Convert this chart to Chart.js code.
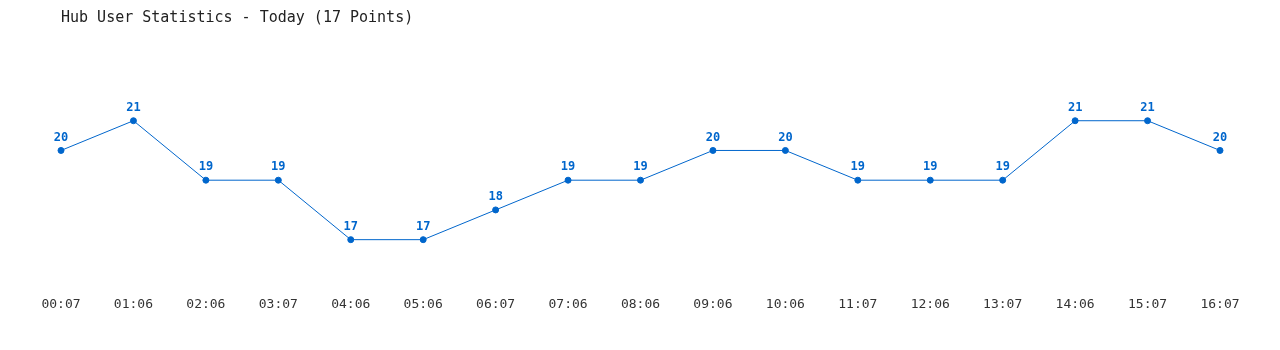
<!DOCTYPE html>
<html>
<head>
<meta charset="utf-8">
<script src="https://cdn.jsdelivr.net/npm/chart.js@4/dist/chart.umd.min.js"></script>
<style>
  html, body { margin: 0; padding: 0; background: #fff; }
</style>
</head>
<body>
<canvas id="c" width="1280" height="350"></canvas>
<script>
const times = ['00:07','01:06','02:06','03:07','04:06','05:06','06:07','07:06','08:06','09:06','10:06','11:07','12:06','13:07','14:06','15:07','16:07']
const users = [20, 21, 19, 19, 17, 17, 18, 19, 19, 20, 20, 19, 19, 19, 21, 21, 20]
const blue = '#0066cc'
const mono = '"DejaVu Sans Mono", "Liberation Mono", monospace'

// numbers above each point
const pointLabels = {
  id: 'pointLabels',
  afterDatasetsDraw(chart) {
    const c = chart.ctx
    c.save()
    c.font = 'bold 12px ' + mono
    c.fillStyle = blue
    c.textAlign = 'center'
    c.textBaseline = 'middle'
    chart.getDatasetMeta(0).data.forEach((p, i) => c.fillText(users[i], p.x, p.y - 13))
    c.restore()
  }
}

new Chart(document.getElementById('c'), {
  type: 'line',
  data: {
    labels: times,
    datasets: [{
      data: users,
      borderColor: blue,
      backgroundColor: blue,
      borderWidth: 1,
      pointRadius: 3,
      pointHoverRadius: 3,
      tension: 0
    }]
  },
  options: {
    responsive: false,
    animation: false,
    events: [],
    layout: { padding: { left: 61, right: 60, top: 0, bottom: 11 } },
    plugins: {
      legend: { display: false },
      tooltip: { enabled: false },
      title: {
        display: true,
        text: 'Hub User Statistics - Today (17 Points)',
        align: 'start',
        color: '#222',
        font: { family: mono, size: 15, weight: 'normal' },
        padding: { top: 9, bottom: 64 }
      }
    },
    scales: {
      x: {
        offset: false,
        grid: { display: false, drawTicks: false },
        border: { display: false },
        ticks: { color: '#333', font: { family: mono, size: 13 }, padding: 27, maxRotation: 0, autoSkip: false }
      },
      y: {
        display: false,
        min: 16,
        max: 22
      }
    }
  },
  plugins: [pointLabels]
})
</script>
</body>
</html>
